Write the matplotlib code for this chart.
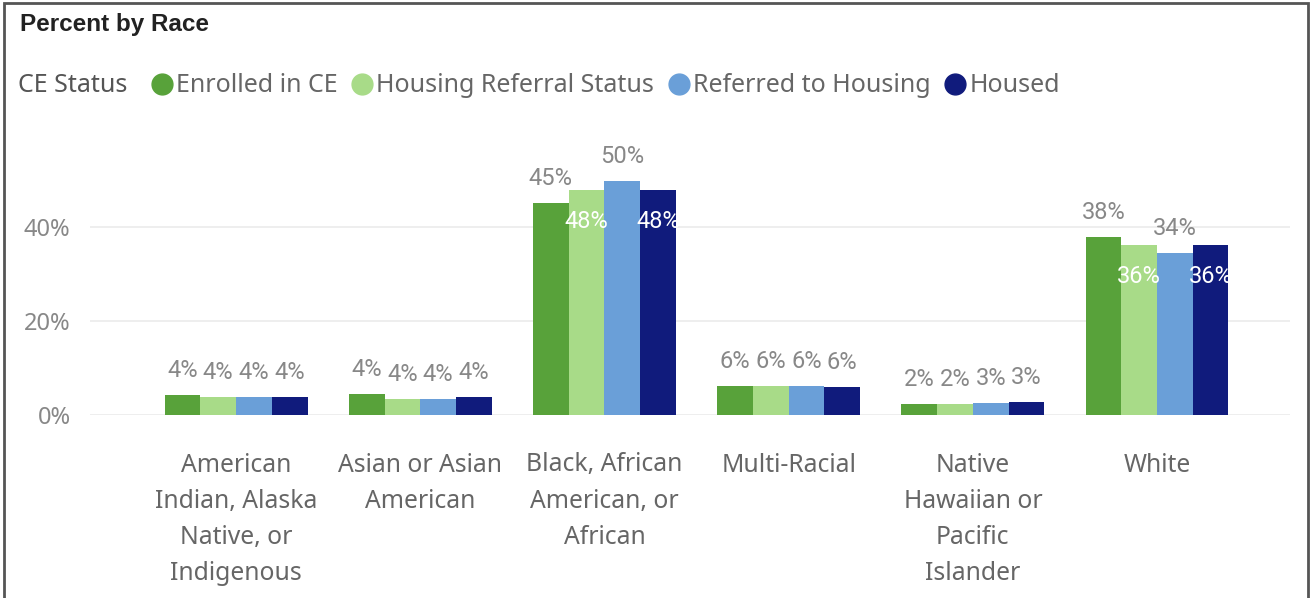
import matplotlib.pyplot as plt
import numpy as np
from matplotlib.lines import Line2D
from matplotlib.patches import Rectangle

plt.rcParams['font.family'] = ['Noto Sans', 'DejaVu Sans']

categories = ['American\nIndian, Alaska\nNative, or\nIndigenous', 'Asian or Asian\nAmerican',
              'Black, African\nAmerican, or\nAfrican', 'Multi-Racial',
              'Native\nHawaiian or\nPacific\nIslander', 'White']
series = ['Enrolled in CE', 'Housing Referral Status', 'Referred to Housing', 'Housed']
enrolled = [4.3, 4.4, 45.1, 6.1, 2.4, 37.9]
referral_status = [3.8, 3.5, 47.9, 6.2, 2.4, 36.2]
referred = [3.8, 3.5, 49.8, 6.1, 2.6, 34.5]
housed = [3.8, 3.8, 47.9, 6.0, 2.7, 36.2]
values = [enrolled, referral_status, referred, housed]
colors = ['#58A23A', '#A8DB88', '#6A9FD8', '#101B7C']

fig = plt.figure(figsize=(13.14, 5.98), dpi=100)
ax = fig.add_axes([90 / 1314, (598 - 415) / 598, 1200 / 1314, 275 / 598])

x = np.arange(len(categories))
w = 0.194
for i, (name, vals) in enumerate(zip(series, values)):
    xs = x + (i - 1.5) * w
    ax.bar(xs, vals, width=w, color=colors[i], label=name, zorder=3)
    for xi, v in zip(xs, vals):
        txt = f'{round(v):.0f}%'
        if i % 2 == 1 and v > 30:
            ax.text(xi, v - 4.2, txt, ha='center', va='top', color='white',
                    fontsize=17, family='Roboto', zorder=4)
        else:
            ax.text(xi, v + 3.8, txt, ha='center', va='baseline', color='#888888',
                    fontsize=17, family='Roboto', zorder=4)

ax.set_xlim(-0.793, 5.722)
ax.set_ylim(0, 58.5)
ax.set_yticks([0, 20, 40])
ax.set_yticklabels(['0%', '20%', '40%'])
ax.set_xticks(x)
ax.set_xticklabels(categories, linespacing=1.58)
ax.tick_params(axis='both', length=0, colors='#888888', labelsize=17)
ax.tick_params(axis='x', pad=27, colors='#666666', labelsize=17.8)
ax.tick_params(axis='y', pad=14)
ax.grid(axis='y', color='#EBEBEB', linewidth=1.2, zorder=0)
for s in ax.spines.values():
    s.set_visible(False)

fig.text(20 / 1314, 1 - 25 / 598, 'Percent by Race', fontsize=17.5, fontweight='bold',
         family='Liberation Sans', color='#222222', va='center', ha='left')
fig.text(18 / 1314, 1 - 86 / 598, 'CE Status', fontsize=18, color='#555555',
         va='center', ha='left')
handles = [Line2D([0], [0], marker='o', linestyle='', markersize=15, color=c) for c in colors]
fig.legend(handles, series, loc='center left', bbox_to_anchor=(152 / 1314, 1 - 86 / 598),
           ncol=4, frameon=False, fontsize=18, handletextpad=0.15, columnspacing=0.6,
           labelcolor='#666666', handlelength=0.8, borderpad=0, borderaxespad=0)

fig.add_artist(Rectangle((4 / 1314, -0.01), 1304 / 1314, 1 - 3 / 598 + 0.01,
                         transform=fig.transFigure, fill=False, edgecolor='#555555', linewidth=2))

plt.savefig('out.png', dpi=100)
